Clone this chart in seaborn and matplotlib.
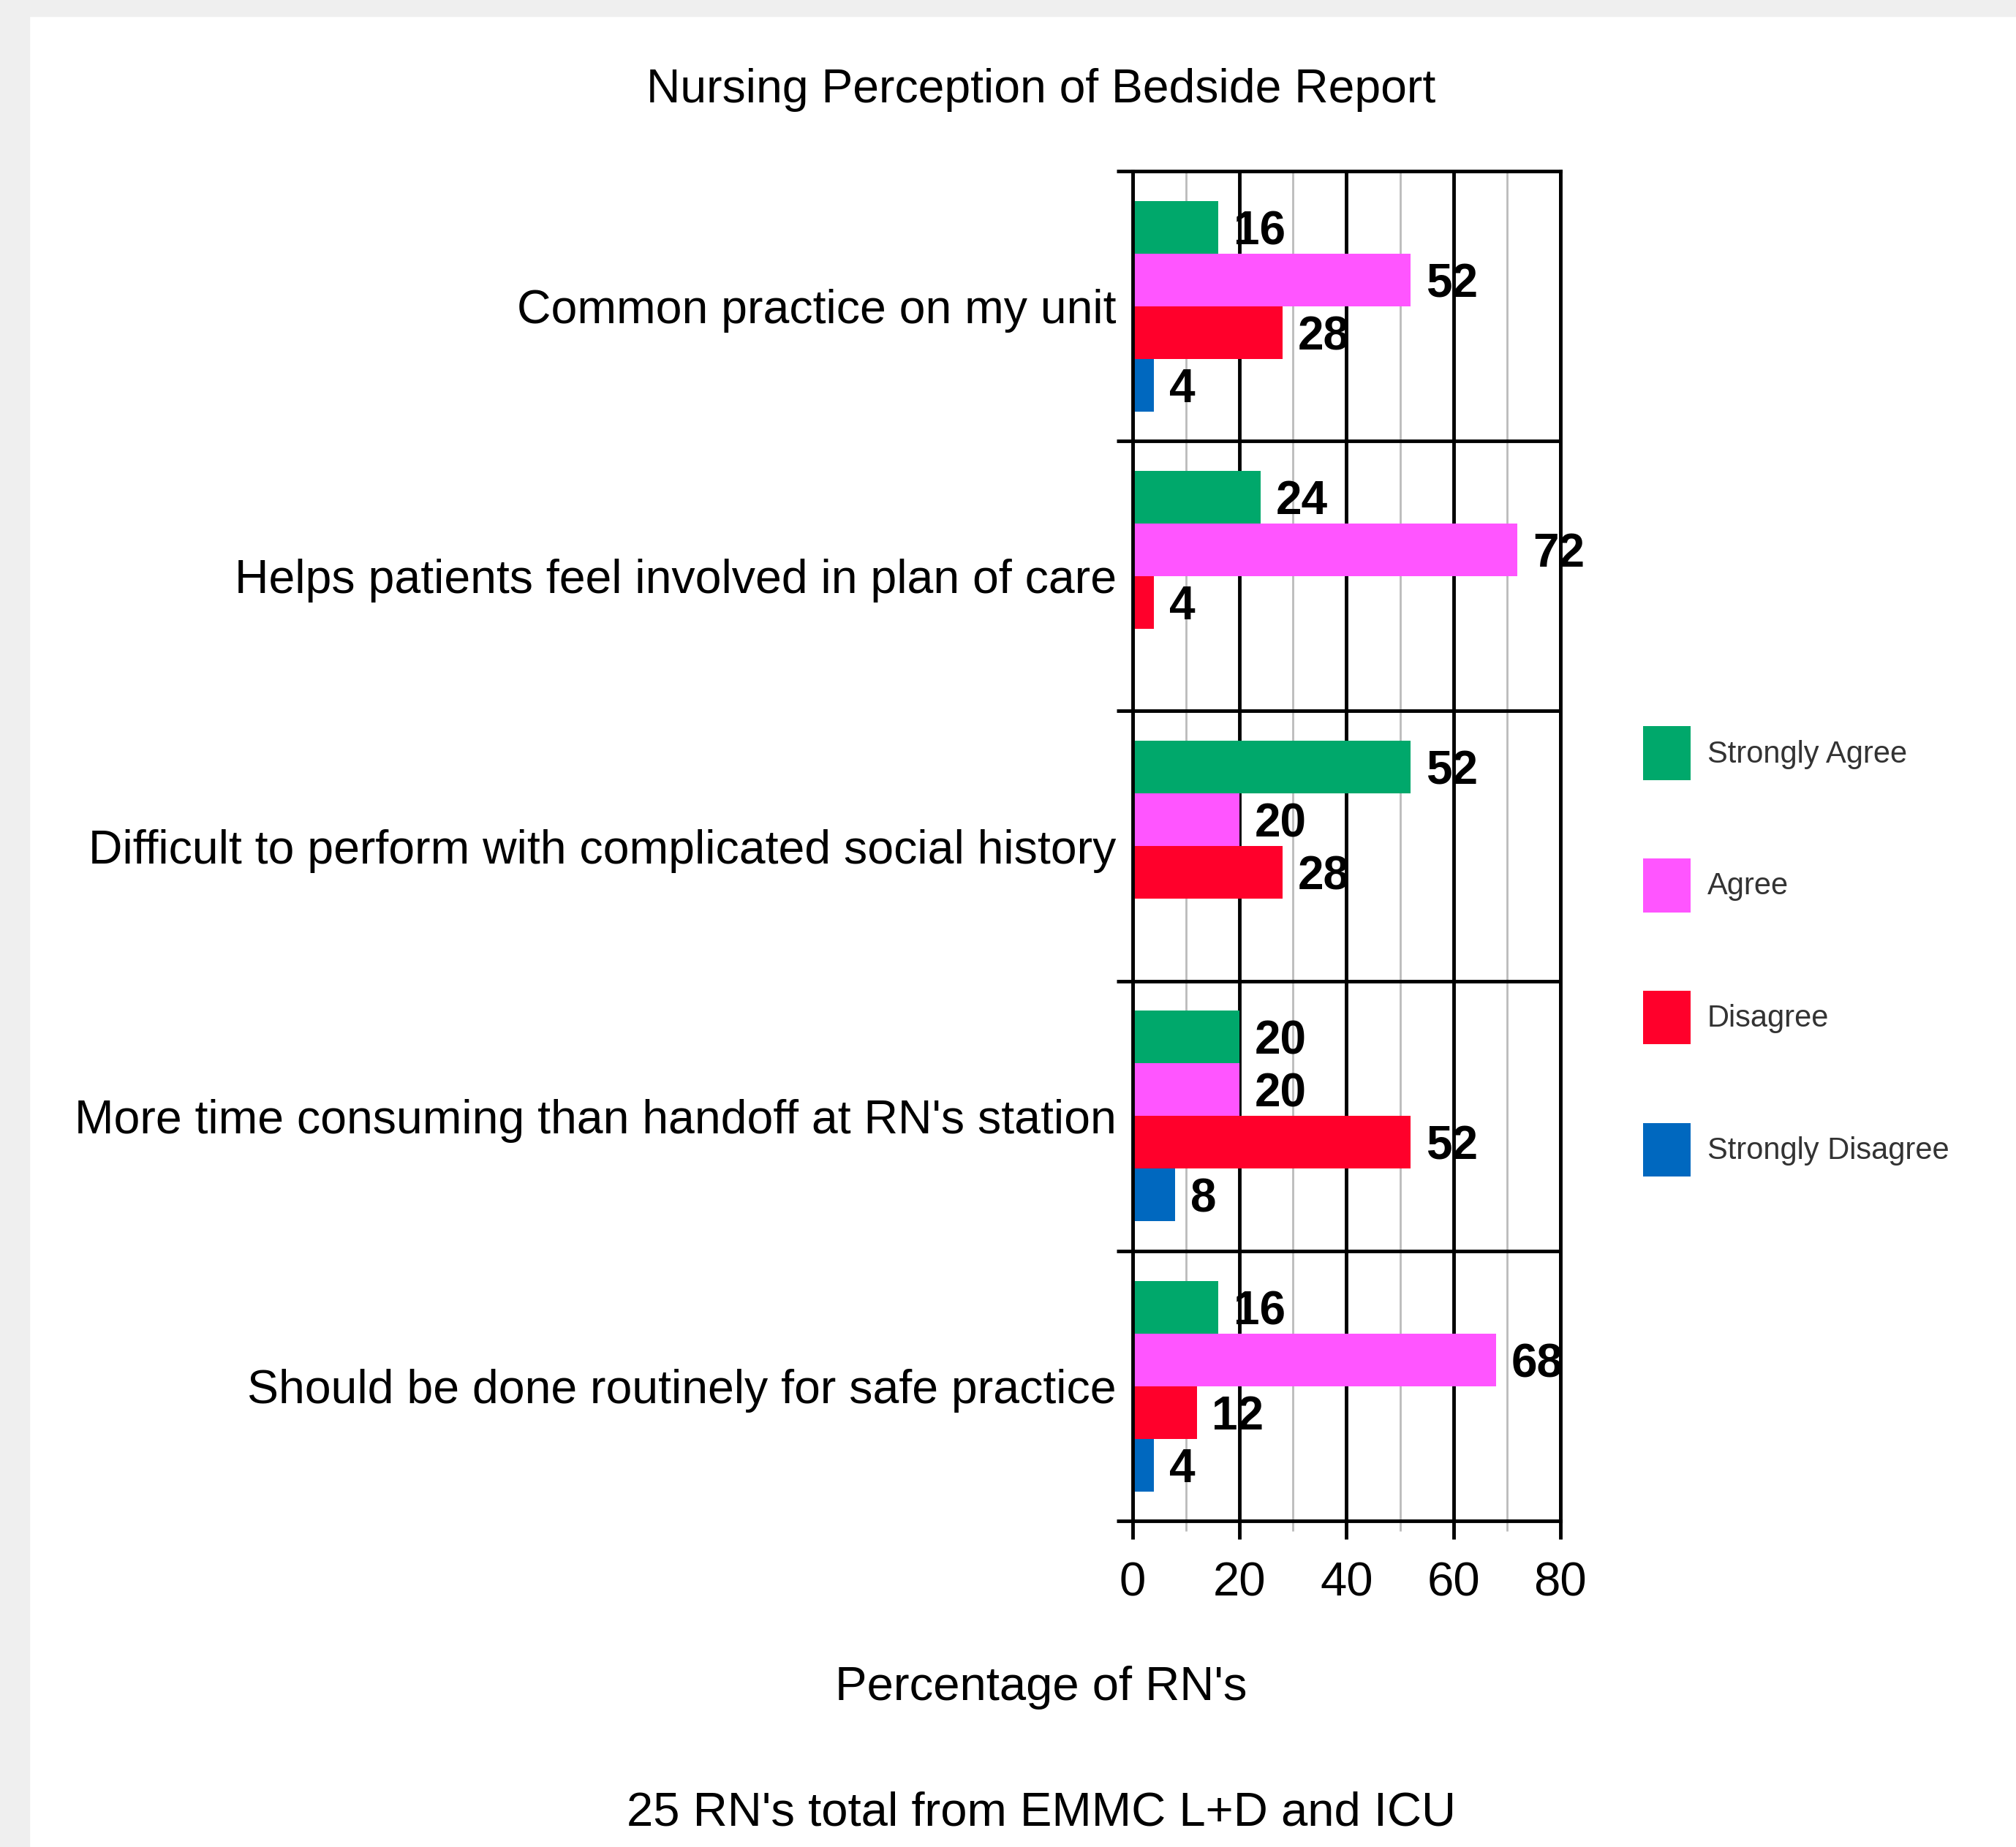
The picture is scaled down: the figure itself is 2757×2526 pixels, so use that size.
import matplotlib
matplotlib.use('Agg')
import matplotlib.pyplot as plt
from matplotlib.patches import Rectangle
from matplotlib.ticker import MultipleLocator, FixedLocator
import pandas as pd
import seaborn as sns

# survey data (percent of RNs)
statements = ["Common practice on my unit",
              "Helps patients feel involved in plan of care",
              "Difficult to perform with complicated social history",
              "More time consuming than handoff at RN's station",
              "Should be done routinely for safe practice"]
responses = ["Strongly Agree", "Agree", "Disagree", "Strongly Disagree"]
strongly_agree = [16, 24, 52, 20, 16]
agree = [52, 72, 20, 20, 68]
disagree = [28, 4, 28, 52, 12]
strongly_disagree = [4, 0, 0, 8, 4]
colors = ["#00A86B", "#FF55FF", "#FF002B", "#0068BF"]

rows = []
for i, s in enumerate(statements):
    for r, vals in zip(responses, [strongly_agree, agree, disagree, strongly_disagree]):
        rows.append({"statement": s, "response": r, "pct": vals[i]})
df = pd.DataFrame(rows)

sns.set_style("white")
plt.rcParams['font.family'] = ['Liberation Sans', 'DejaVu Sans']
plt.rcParams['text.color'] = 'black'
plt.rcParams['axes.labelcolor'] = 'black'
plt.rcParams['xtick.labelcolor'] = 'black'
plt.rcParams['ytick.labelcolor'] = 'black'

fig = plt.figure(figsize=(27.57, 25.26), dpi=100)
fig.patches.append(Rectangle((0, 0), 40 / 2757, 1, transform=fig.transFigure,
                             color="#efefef", zorder=0))
fig.patches.append(Rectangle((0, 1 - 22 / 2526), 1, 22 / 2526, transform=fig.transFigure,
                             color="#efefef", zorder=0))

ax = fig.add_axes([0.5618, 0.1765, 0.2122, 0.7309])
sns.barplot(data=df, y="statement", x="pct", hue="response", orient="h",
            palette=colors, width=0.78, saturation=1, linewidth=0, ax=ax)

for cont in ax.containers:
    labels = [str(int(b.get_width())) if b.get_width() > 0 else "" for b in cont]
    texts = ax.bar_label(cont, labels=labels, padding=15, fontsize=46,
                         fontweight="bold", color="black")
    for t in texts:
        t.set_va("center_baseline")

ax.set_xlim(0, 80)
ax.set_ylim(len(statements) - 0.5, -0.5)
ax.xaxis.set_major_locator(MultipleLocator(20))
ax.xaxis.set_minor_locator(MultipleLocator(10))
ax.yaxis.set_minor_locator(FixedLocator([i - 0.5 for i in range(len(statements) + 1)]))
ax.set_axisbelow(True)
ax.grid(True, which="major", axis="x", color="black", linewidth=3.5)
ax.grid(True, which="minor", axis="x", color="#bbbbbb", linewidth=2)
ax.grid(True, which="minor", axis="y", color="black", linewidth=3.5)
ax.grid(False, which="major", axis="y")

ax.tick_params(axis="x", which="major", bottom=True, length=18, width=3.5,
               color="black", labelsize=47, pad=22)
ax.tick_params(axis="x", which="minor", bottom=True, length=10, width=2, color="#bbbbbb")
ax.tick_params(axis="y", which="major", left=False, length=0, labelsize=46.4, pad=16)
ax.tick_params(axis="y", which="minor", left=True, length=16, width=3.5, color="black")
for sp in ax.spines.values():
    sp.set_visible(True)
    sp.set_color("black")
    sp.set_linewidth(3.5)

ax.set_ylabel("")
ax.set_xlabel("Percentage of RN's", fontsize=47)
ax.xaxis.set_label_coords(-0.214, -0.107)

fig.text(0.5165, 0.9515, "Nursing Perception of Bedside Report", fontsize=46.3,
         ha="center", va="center")
fig.text(0.5165, 0.0186, "25 RN's total from EMMC L+D and ICU", fontsize=47,
         ha="center", va="center")

ax.legend(loc="upper left", bbox_to_anchor=(0.815, 0.607), bbox_transform=fig.transFigure,
          frameon=False, prop={"family": "Liberation Sans", "size": 30},
          labelcolor="#333333", handlelength=1.56, handleheight=2.35,
          labelspacing=2.57, handletextpad=0.55, borderpad=0, borderaxespad=0)

fig.savefig("out.png", dpi=100)
